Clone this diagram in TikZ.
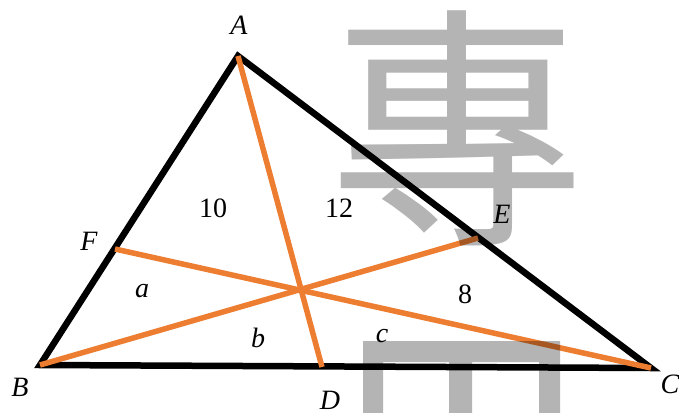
\documentclass[tikz,border=0pt]{standalone}
\usepackage{fontspec}
\setmainfont{Liberation Serif}
\newfontfamily\cjkfont{Noto Sans CJK TC}
\definecolor{tri}{RGB}{0,0,0}
\definecolor{cev}{RGB}{237,125,49}
\definecolor{wm}{RGB}{180,180,180}
\tikzset{
  side/.style={draw=tri,line width=6.5pt,line join=miter},
  cevian/.style={draw=cev,line width=5.5pt},
  lbl/.style={font=\fontsize{28}{28}\selectfont\itshape,inner sep=0pt},
  num/.style={font=\fontsize{28}{28}\selectfont,inner sep=0pt},
  wmark/.style={fill=wm,draw=none}
}
\begin{document}
\begin{tikzpicture}[x=1pt,y=-1pt]
\useasboundingbox (0,0) rectangle (679,412);
\fill[white] (0,0) rectangle (679,412);
% points
\coordinate (A) at (238,56);
\coordinate (B) at (40,365);
\coordinate (C) at (651,368);
\coordinate (D) at (322,367);
\coordinate (E) at (478,238);
\coordinate (F) at (115,249);
% triangle
\draw[side] (A) -- (B) -- (C) -- cycle;
% cevians
\draw[cevian] (A) -- (D);
\draw[cevian] (B) -- (E);
\draw[cevian] (C) -- (F);
% labels
\node[lbl] (lA) at (239,25) {A};
\node[lbl] (lB) at (20,387) {B};
\node[lbl] (lC) at (670,384) {C};
\node[lbl] (lD) at (330,400) {D};
\node[lbl] (lE) at (502,214) {E};
\node[lbl] (lF) at (89,241) {F};
\node[num] (n10) at (213,208) {10};
\node[num] (n12) at (339,208) {12};
\node[num] (n8) at (465,294) {8};
\node[lbl] (la) at (142,291) {a};
\node[lbl] (lb) at (258,338) {b};
\node[lbl] (lc) at (382,336) {c};
% watermark
\begin{scope}[blend mode=multiply]
\node[text=wm,inner sep=0pt,font=\cjkfont\fontsize{256}{256}\selectfont] (wm1) at (457,128) {專};
\fill[wm,even odd rule] (363,341) rectangle (560,420)
  (383,362) rectangle (449,420)
  (472,362) rectangle (539,420);
\end{scope}
\end{tikzpicture}
\end{document}
